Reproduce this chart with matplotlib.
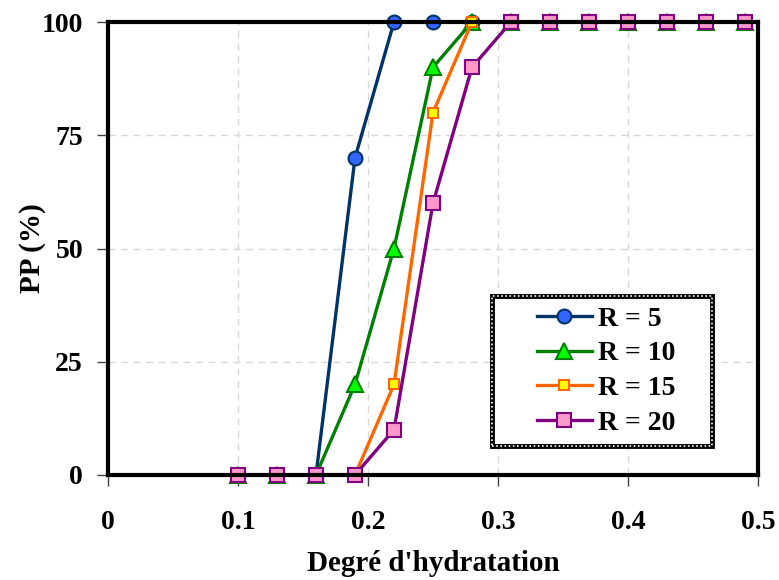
import matplotlib
matplotlib.use("Agg")
import matplotlib.pyplot as plt
from matplotlib.patches import Rectangle

# Hydration degree and percolation probability for each ratio R
degree = [0.10, 0.13, 0.16, 0.19, 0.22, 0.25, 0.28, 0.31, 0.34, 0.37, 0.40, 0.43, 0.46, 0.49]
pp_r5 = [0, 0, 0, 70, 100, 100, 100, 100, 100, 100, 100, 100, 100, 100]
pp_r10 = [0, 0, 0, 20, 50, 90, 100, 100, 100, 100, 100, 100, 100, 100]
pp_r15 = [0, 0, 0, 0, 20, 80, 100, 100, 100, 100, 100, 100, 100, 100]
pp_r20 = [0, 0, 0, 0, 10, 60, 90, 100, 100, 100, 100, 100, 100, 100]
labels = ["R = 5", "R = 10", "R = 15", "R = 20"]
xticks = [0, 0.1, 0.2, 0.3, 0.4, 0.5]
yticks = [0, 25, 50, 75, 100]

plt.rcParams["font.family"] = ["Liberation Serif", "DejaVu Serif"]
plt.rcParams["font.weight"] = "bold"

fig = plt.figure(figsize=(7.79, 5.80), dpi=100)
ax = fig.add_axes([108 / 779, 1 - 475 / 580, 650 / 779, 453 / 580])

styles = [
    dict(color="#003366", marker="o", mfc="#3366FF", mec="#003366", ms=10),
    dict(color="#008000", marker="^", mfc="#00FF00", mec="#008000", ms=11),
    dict(color="#FF6600", marker="s", mfc="#FFFF00", mec="#FF6600", ms=7),
    dict(color="#800080", marker="s", mfc="#FF99CC", mec="#800080", ms=10),
]
series = [pp_r5, pp_r10, pp_r15, pp_r20]
for ys, lab, st in zip(series, labels, styles):
    ax.plot(degree, ys, lw=2.4, mew=1.5, label=lab, clip_on=False, **st)

ax.set_xlim(0, 0.5)
ax.set_ylim(0, 100)
ax.set_xticks(xticks)
ax.set_xticklabels(["0", "0.1", "0.2", "0.3", "0.4", "0.5"])
ax.set_yticks(yticks)
ax.tick_params(axis="both", labelsize=20, direction="out", length=8, width=1, color="#444444")
ax.tick_params(axis="x", pad=17)
ax.tick_params(axis="y", pad=10)
ax.grid(True, color="#d8d8d8", linestyle=(0, (5, 4)), lw=1)
ax.set_axisbelow(True)
for s in ax.spines.values():
    s.set_linewidth(3)
    s.set_color("black")

ax.set_xlabel("Degré d'hydratation", fontsize=21, fontweight="bold", labelpad=11)
ax.set_ylabel("PP (%)", fontsize=21, fontweight="bold", labelpad=-3)

# legend box: thick black border with a white dotted line running through it
box = (0.591, 0.064, 0.338, 0.331)
ax.add_patch(Rectangle(box[:2], box[2], box[3], transform=ax.transAxes,
                       facecolor="white", edgecolor="black", lw=3.5, zorder=5))
ax.add_patch(Rectangle(box[:2], box[2], box[3], transform=ax.transAxes,
                       fill=False, edgecolor="white", lw=1.2, linestyle=(0, (1, 1.5)),
                       zorder=6))

leg = ax.legend(loc="center", bbox_to_anchor=(box[0] + box[2] / 2 + 0.006, box[1] + box[3] / 2),
                fontsize=20, frameon=False, handlelength=2.0, labelspacing=0.33,
                borderpad=0, handletextpad=0.2, borderaxespad=0)
leg.set_zorder(7)

fig.savefig("out.png", dpi=100)
